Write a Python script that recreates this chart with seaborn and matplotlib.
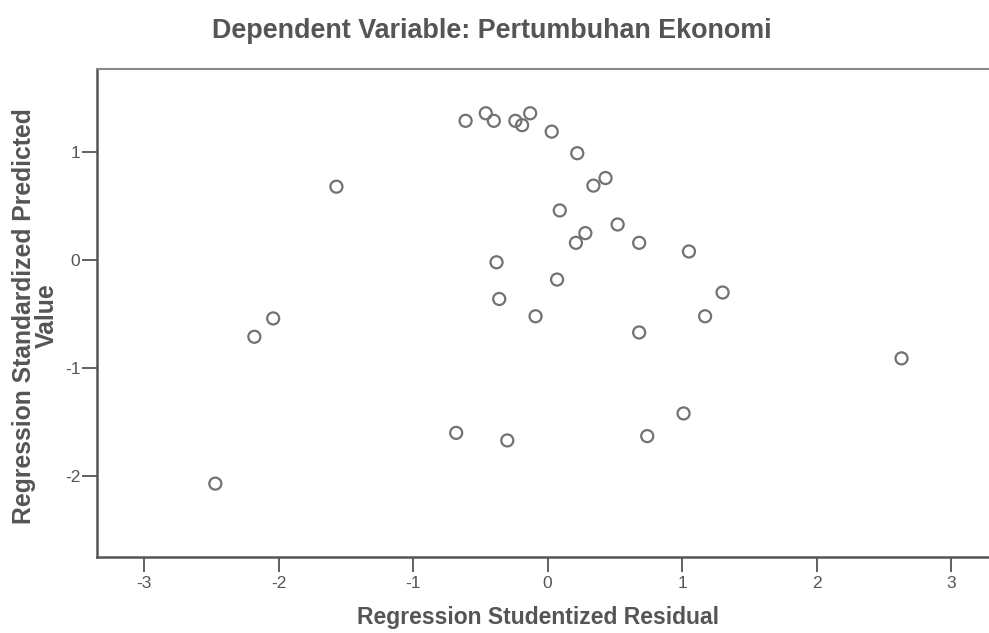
import matplotlib
matplotlib.use("Agg")
import matplotlib.pyplot as plt
import seaborn as sns
import pandas as pd

residual = [-2.47, -2.18, -2.04, -1.57, -0.61, -0.46, -0.40, -0.24, -0.19, -0.13,
            0.03, 0.22, 0.34, 0.43, 0.09, 0.52, 0.28, 0.21, 0.68, 1.05,
            -0.38, -0.36, -0.09, 0.07, 0.68, 1.17, 1.30, 2.63, 1.01, 0.74,
            -0.68, -0.30]
predicted = [-2.07, -0.71, -0.54, 0.68, 1.29, 1.36, 1.29, 1.29, 1.25, 1.36,
             1.19, 0.99, 0.69, 0.76, 0.46, 0.33, 0.25, 0.16, 0.16, 0.08,
             -0.02, -0.36, -0.52, -0.18, -0.67, -0.52, -0.30, -0.91, -1.42, -1.63,
             -1.60, -1.67]
xticks = [-3, -2, -1, 0, 1, 2, 3]
yticks = [-2, -1, 0, 1]

df = pd.DataFrame({"resid": residual, "pred": predicted})

sns.set_style("white")
plt.rcParams["font.family"] = ["Liberation Sans", "DejaVu Sans"]
plt.rcParams["axes.unicode_minus"] = False

fig = plt.figure(figsize=(9.89, 6.33), dpi=100)
ax = fig.add_axes([0.098, 0.12, 0.902, 0.771])

sns.scatterplot(data=df, x="resid", y="pred", ax=ax, s=75,
                facecolor="none", edgecolor="#727272", linewidth=1.6)

ax.set_xlim(-3.35, 3.28)
ax.set_ylim(-2.75, 1.77)
ax.set_xticks(xticks)
ax.set_yticks(yticks)
ax.tick_params(axis="both", direction="out", length=11, width=1.3, color="#555555",
               labelcolor="#555555", left=True, bottom=True)
ax.tick_params(axis="x", labelsize=12.5, pad=3)
ax.tick_params(axis="y", labelsize=12.5, pad=1)

for side in ["left", "bottom"]:
    ax.spines[side].set_color("#555555")
    ax.spines[side].set_linewidth(1.8)
ax.spines["top"].set_color("#8a8a8a")
ax.spines["top"].set_linewidth(1.5)
ax.spines["right"].set_visible(False)

ax.set_xlabel("Regression Studentized Residual", fontsize=16.5, fontweight="bold",
              color="#555555")
ax.xaxis.set_label_coords(0.494, -0.1)
ax.set_ylabel("Regression Standardized Predicted\nValue", fontsize=17.8,
              fontweight="bold", color="#555555", linespacing=0.9)
ax.yaxis.set_label_coords(-0.043, 0.494)
fig.suptitle("Dependent Variable: Pertumbuhan Ekonomi", x=0.4975, y=0.972,
             fontsize=19.4, fontweight="bold", color="#555555")

fig.savefig("out.png", dpi=100)
